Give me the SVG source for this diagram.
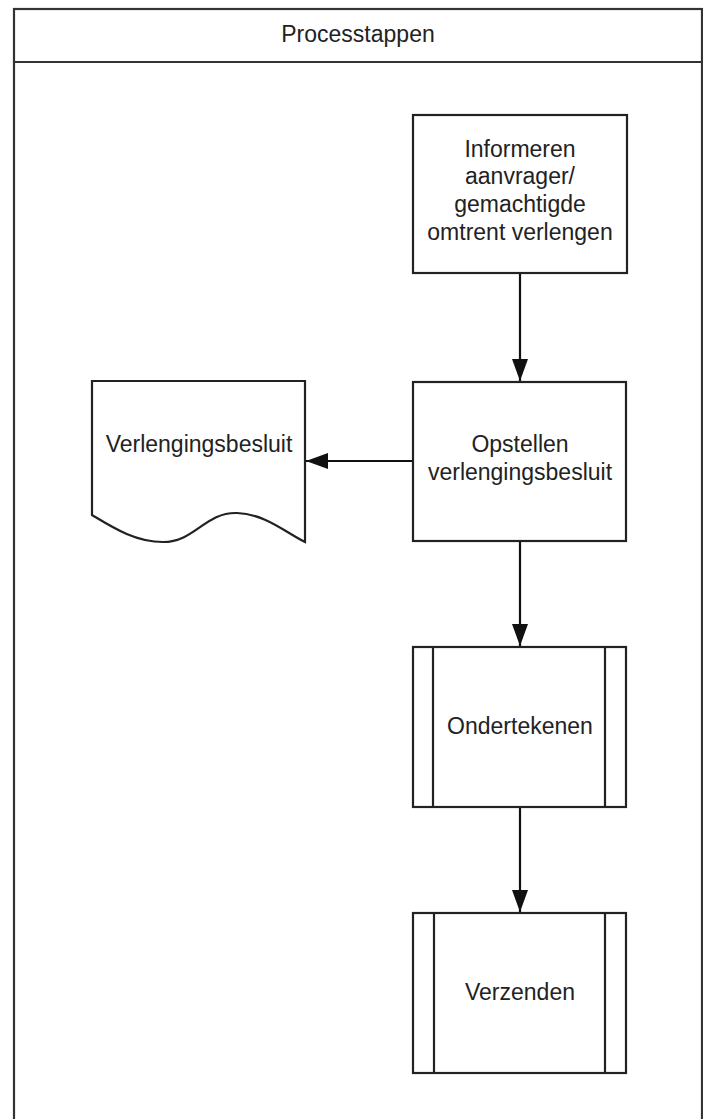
<svg xmlns="http://www.w3.org/2000/svg" width="703" height="1119" viewBox="0 0 703 1119">
<style>
.shape{fill:#fff;stroke:#222;stroke-width:2.2}
.lane{fill:#fff;stroke:#333;stroke-width:2.2}
.lbl{font-family:"Liberation Sans",Arial,sans-serif;font-size:23px;fill:#222;text-anchor:middle}
.conn{fill:none;stroke:#111;stroke-width:2.2}
</style>
<defs>
<marker id="arr" markerUnits="userSpaceOnUse" markerWidth="24" markerHeight="18" refX="22" refY="8" orient="auto">
<path d="M0,0 L22,8 L0,16 Z" fill="#111"/>
</marker>
</defs>
<g id="lane">
<rect class="lane" x="14" y="9" width="688" height="1125"/>
<line class="lane" x1="14" y1="62" x2="702" y2="62"/>
<text class="lbl" x="358" y="42">Processtappen</text>
</g>
<g id="connectors">
<path class="conn" d="M520,273 V381" marker-end="url(#arr)"/>
<path class="conn" d="M520,541 V646" marker-end="url(#arr)"/>
<path class="conn" d="M520,807 V912" marker-end="url(#arr)"/>
<path class="conn" d="M413,461 H306" marker-end="url(#arr)"/>
</g>
<g id="informeren">
<rect class="shape" x="413" y="115" width="214" height="158"/>
<text class="lbl" x="520" y="157">Informeren</text>
<text class="lbl" x="520" y="184">aanvrager/</text>
<text class="lbl" x="520" y="212">gemachtigde</text>
<text class="lbl" x="520" y="240">omtrent verlengen</text>
</g>
<g id="opstellen">
<rect class="shape" x="413" y="382" width="213" height="159"/>
<text class="lbl" x="520" y="452">Opstellen</text>
<text class="lbl" x="520" y="480">verlengingsbesluit</text>
</g>
<g id="verlengingsbesluit">
<path class="shape" d="M92,381 H305 V542 C285,532 265,514 237,513 C205,512 195,542 163,542 C135,542 112,527 92,515 Z"/>
<text class="lbl" x="199" y="452">Verlengingsbesluit</text>
</g>
<g id="ondertekenen">
<rect class="shape" x="413" y="647" width="213" height="160"/>
<line class="shape" x1="433" y1="647" x2="433" y2="807"/>
<line class="shape" x1="605" y1="647" x2="605" y2="807"/>
<text class="lbl" x="520" y="734">Ondertekenen</text>
</g>
<g id="verzenden">
<rect class="shape" x="413" y="913" width="213" height="160"/>
<line class="shape" x1="434" y1="913" x2="434" y2="1073"/>
<line class="shape" x1="605" y1="913" x2="605" y2="1073"/>
<text class="lbl" x="520" y="1000">Verzenden</text>
</g>
</svg>
